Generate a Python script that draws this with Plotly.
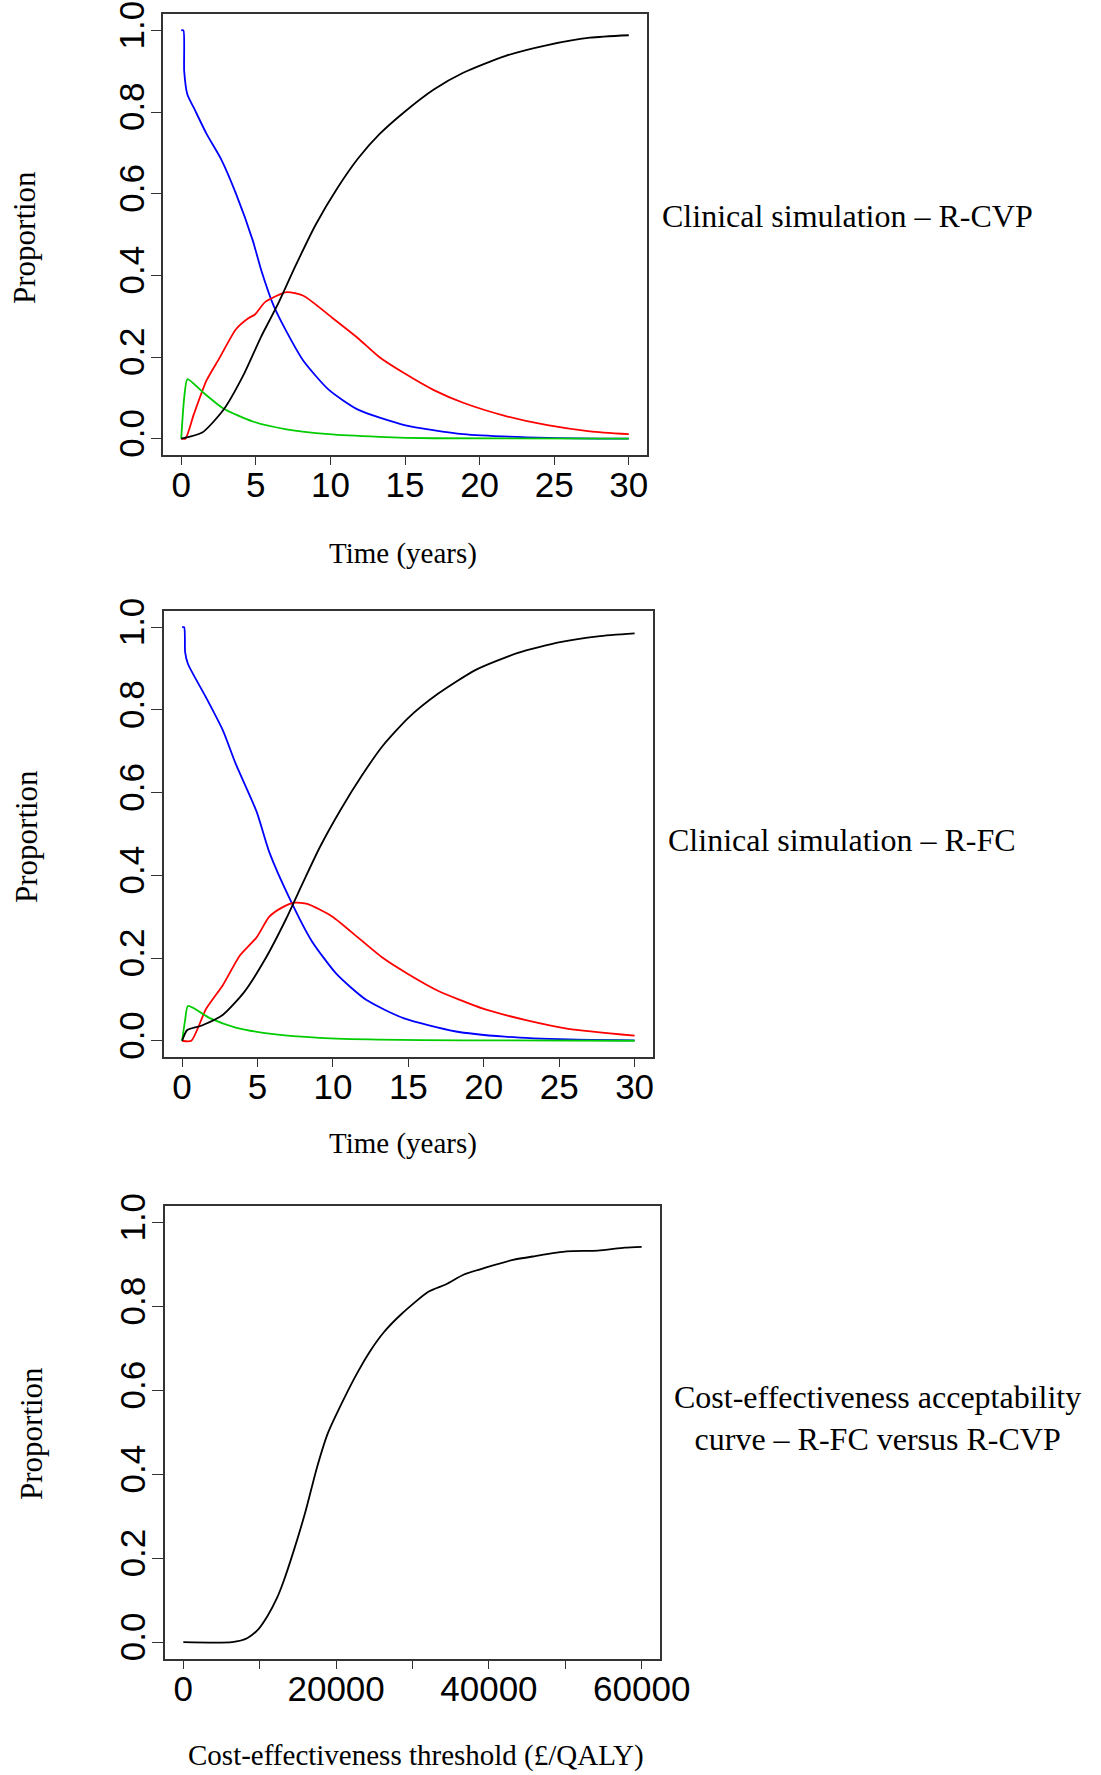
import plotly.graph_objects as go

W, H = 1101, 1775

# ---------------- Panel 1: Clinical simulation - R-CVP ----------------
p1_blue_t = [0, 0.15, 0.2, 0.42, 0.85, 1.69, 2.68, 3.67, 4.8, 5.36, 6.2, 7.06, 8.2, 9.88, 11.85, 14.96, 18.9, 24.6, 30]
p1_blue_v = [1.0, 1.0, 0.90, 0.842, 0.81, 0.747, 0.684, 0.60, 0.485, 0.413, 0.325, 0.262, 0.19, 0.12, 0.071, 0.0334, 0.011, 0.002, 0.0]

p1_red_t = [0, 0.28, 0.85, 1.69, 2.54, 3.67, 4.5, 4.94, 5.64, 7.06, 8.19, 10.16, 11.85, 13.27, 14.96, 16.93, 18.9, 21.7, 24.55, 27.4, 30]
p1_red_v = [0, 0.0, 0.06, 0.142, 0.196, 0.268, 0.295, 0.304, 0.335, 0.359, 0.35, 0.295, 0.246, 0.20, 0.16, 0.119, 0.088, 0.056, 0.033, 0.018, 0.011]

p1_green_t = [0, 0.2, 0.42, 1.41, 2.82, 4.8, 7.06, 9.88, 13.27, 16.93, 30]
p1_green_v = [0, 0.10, 0.146, 0.115, 0.074, 0.042, 0.023, 0.011, 0.0045, 0.001, 0.0]

p1_black_t = [0, 1.41, 2.82, 4.23, 5.36, 6.49, 7.62, 9.03, 10.44, 11.85, 13.27, 14.96, 16.93, 18.9, 21.7, 24.55, 27.4, 30]
p1_black_v = [0, 0.015, 0.07, 0.16, 0.25, 0.33, 0.42, 0.525, 0.612, 0.686, 0.745, 0.80, 0.855, 0.896, 0.937, 0.964, 0.982, 0.988]

# ---------------- Panel 2: Clinical simulation - R-FC ----------------
p2_blue_t = [0, 0.14, 0.2, 0.39, 1.59, 2.71, 3.55, 4.94, 5.78, 7.18, 8.58, 10.25, 12.2, 14.72, 18.07, 21.4, 25.6, 30]
p2_blue_v = [1.0, 1.0, 0.94, 0.911, 0.83, 0.75, 0.67, 0.554, 0.456, 0.34, 0.242, 0.161, 0.099, 0.054, 0.023, 0.0098, 0.003, 0.001]

p2_red_t = [0, 0.61, 1.59, 2.71, 3.83, 4.94, 5.78, 6.62, 7.46, 8.3, 9.97, 11.65, 13.32, 15.0, 16.96, 20.0, 22.8, 25.6, 30]
p2_red_v = [0, 0.0, 0.077, 0.135, 0.206, 0.25, 0.30, 0.322, 0.334, 0.331, 0.30, 0.25, 0.20, 0.161, 0.121, 0.077, 0.05, 0.029, 0.0125]

p2_green_t = [0, 0.2, 0.39, 1.87, 3.55, 6.06, 9.13, 13.04, 18.6, 30]
p2_green_v = [0, 0.05, 0.084, 0.054, 0.032, 0.016, 0.007, 0.0027, 0.001, 0.0]

p2_black_t = [0, 0.34, 1.31, 2.71, 4.1, 5.5, 6.9, 8.02, 9.13, 10.53, 11.93, 13.32, 15.0, 16.96, 19.47, 22.26, 25.06, 27.57, 30]
p2_black_v = [0, 0.026, 0.037, 0.063, 0.117, 0.197, 0.295, 0.383, 0.468, 0.56, 0.642, 0.714, 0.781, 0.839, 0.897, 0.938, 0.964, 0.978, 0.985]

# ---------------- Panel 3: CEAC R-FC versus R-CVP ----------------
ceac_x = [0, 6370, 8410, 9870, 11040, 12200, 13080, 14540, 16000, 17460, 18920, 20970, 22720, 24470, 26220, 28560,
          32070, 34400, 36740, 39660, 43160, 46080, 50170, 54260, 57770, 60000]
ceac_y = [0, 0.0, 0.01, 0.032, 0.063, 0.103, 0.143, 0.223, 0.312, 0.414, 0.498, 0.578, 0.64, 0.694, 0.738, 0.782,
          0.835, 0.853, 0.876, 0.893, 0.911, 0.92, 0.931, 0.933, 0.94, 0.942]

time_ticks = [0, 5, 10, 15, 20, 25, 30]
prop_ticks = [0.0, 0.2, 0.4, 0.6, 0.8, 1.0]
prop_labels = ["0.0", "0.2", "0.4", "0.6", "0.8", "1.0"]
cost_ticks = [0, 10000, 20000, 30000, 40000, 50000, 60000]
cost_labels = ["0", "", "20000", "", "40000", "", "60000"]

titles = ["Clinical simulation \u2013 R-CVP", "Clinical simulation \u2013 R-FC",
          "Cost-effectiveness acceptability<br>curve \u2013 R-FC versus R-CVP"]
xtitles = ["Time (years)", "Time (years)", "Cost-effectiveness threshold (\u00a3/QALY)"]
ytitle = "Proportion"

BLUE, RED, GREEN, BLACK = "#0000FF", "#FF0000", "#00CC00", "#000000"
LW = 1.8

fig = go.Figure()

def add(x, y, color, n):
    fig.add_trace(go.Scatter(x=x, y=y, mode="lines",
                             line=dict(color=color, width=LW, shape="spline", smoothing=0.6),
                             xaxis="x" if n == 1 else f"x{n}", yaxis="y" if n == 1 else f"y{n}",
                             showlegend=False, hoverinfo="skip"))

add(p1_blue_t, p1_blue_v, BLUE, 1)
add(p1_red_t, p1_red_v, RED, 1)
add(p1_green_t, p1_green_v, GREEN, 1)
add(p1_black_t, p1_black_v, BLACK, 1)
add(p2_blue_t, p2_blue_v, BLUE, 2)
add(p2_red_t, p2_red_v, RED, 2)
add(p2_green_t, p2_green_v, GREEN, 2)
add(p2_black_t, p2_black_v, BLACK, 2)
add(ceac_x, ceac_y, BLACK, 3)

# panel boxes in pixels: left, right, top, bottom
boxes = [(163.3, 646.7, 14.0, 455.0), (164.0, 652.7, 610.7, 1057.3), (165.0, 660.0, 1205.7, 1659.0)]

def px(x):
    return x / W

def py(y):
    return 1 - y / H

SANS = "Liberation Sans, Arial, sans-serif"
SERIF = "Liberation Serif, Times New Roman, serif"
FRAME = "#333333"

layout = dict(width=W, height=H, margin=dict(l=0, r=0, t=0, b=0, pad=0), autosize=False,
              paper_bgcolor="white", plot_bgcolor="white", showlegend=False)

for i, (l, r, t, b) in enumerate(boxes, start=1):
    xs = "xaxis" if i == 1 else f"xaxis{i}"
    ys = "yaxis" if i == 1 else f"yaxis{i}"
    if i < 3:
        xr = [-1.2, 31.2]
        xt = dict(tickmode="array", tickvals=time_ticks, ticktext=[str(v) for v in time_ticks])
    else:
        xr = [-2400, 62400]
        xt = dict(tickmode="array", tickvals=cost_ticks, ticktext=cost_labels)
    layout[xs] = dict(domain=[px(l), px(r)], range=xr, anchor="y" if i == 1 else f"y{i}",
                      automargin=False, showgrid=False, zeroline=False, showline=True, mirror=True,
                      linecolor=FRAME, linewidth=1.5, ticks="outside", ticklen=8, tickwidth=1.2,
                      tickcolor=FRAME, ticklabelstandoff=-10,
                      tickfont=dict(family=SANS, size=35, color="black"), **xt)
    layout[ys] = dict(domain=[py(b), py(t)], range=[-0.04, 1.04], anchor="x" if i == 1 else f"x{i}",
                      automargin=False, showgrid=False, zeroline=False, showline=True, mirror=True,
                      linecolor=FRAME, linewidth=1.5, ticks="outside", ticklen=11, tickwidth=1.2,
                      tickcolor=FRAME, tickangle=-90, tickmode="array", tickvals=prop_ticks,
                      ticklabelstandoff=-7,
                      ticktext=prop_labels, tickfont=dict(family=SANS, size=35, color="black"))

fig.update_layout(**layout)

ann = []
xt_pos = [(403, 553), (403, 1143), (416, 1755)]
yt_pos = [(25, 238), (26, 837), (31, 1434)]
ti_pos = [(847, 216), (842, 840), (877, 1418)]
for i in range(3):
    ann.append(dict(text=xtitles[i], x=px(xt_pos[i][0]), y=py(xt_pos[i][1]), xref="paper", yref="paper",
                    xanchor="center", yanchor="middle", showarrow=False,
                    font=dict(family=SERIF, size=29, color="black")))
    ann.append(dict(text=ytitle, x=px(yt_pos[i][0]), y=py(yt_pos[i][1]), xref="paper", yref="paper",
                    xanchor="center", yanchor="middle", showarrow=False, textangle=-90,
                    font=dict(family=SERIF, size=31, color="black")))
    ann.append(dict(text=titles[i], x=px(ti_pos[i][0]), y=py(ti_pos[i][1]), xref="paper", yref="paper",
                    xanchor="center", yanchor="middle", showarrow=False, align="center",
                    font=dict(family=SERIF, size=32, color="black")))
fig.update_layout(annotations=ann)

fig.write_html("out.html")
